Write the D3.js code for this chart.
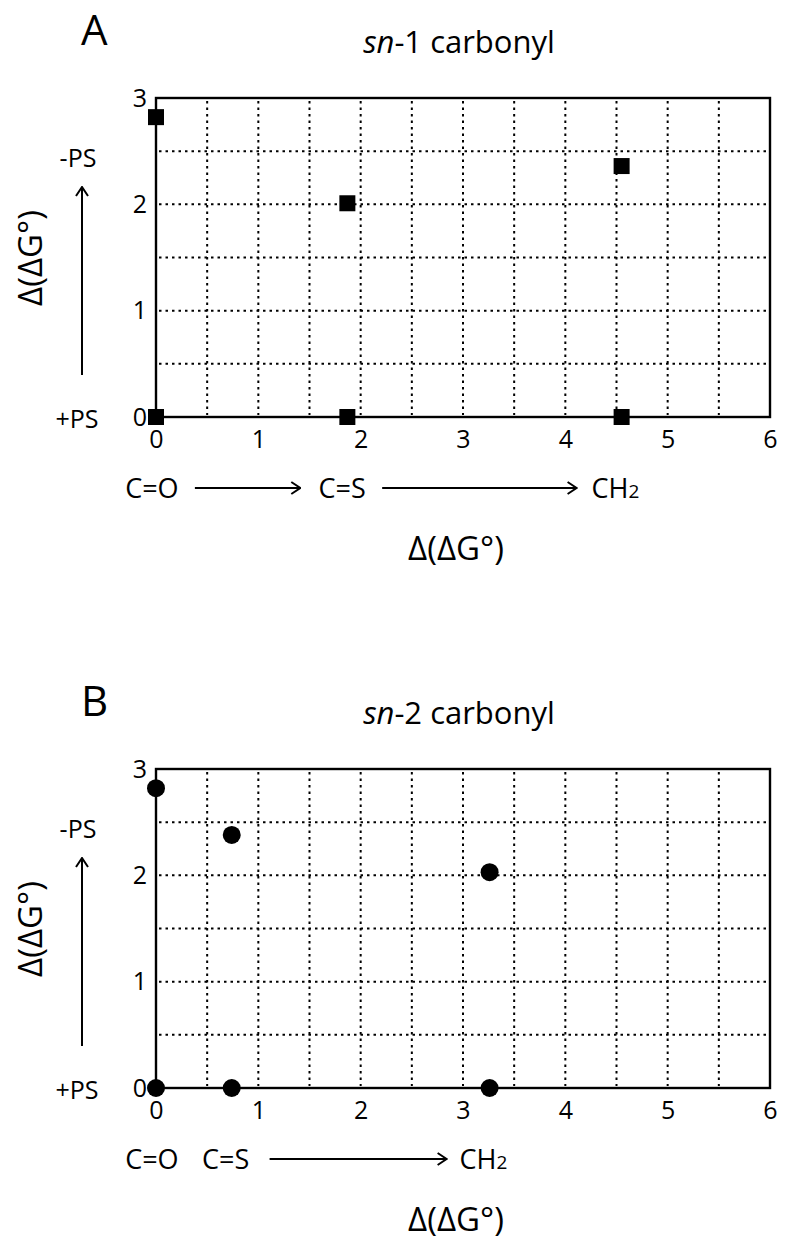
<!DOCTYPE html>
<html><head><meta charset="utf-8">
<script src="https://cdn.jsdelivr.net/npm/d3@7"></script>
<style>
body{margin:0;background:#fff;}
svg{display:block;font-family:"Open Sans",sans-serif;}
</style></head>
<body>
<svg id="chart" width="800" height="1245"></svg>
<script>
// ---- data ----
const xTicks = [0, 1, 2, 3, 4, 5, 6];
const yTicks = [0, 1, 2, 3];
const gridXValues = [0.5, 1, 1.5, 2, 2.5, 3, 3.5, 4, 4.5, 5, 5.5];
const gridYValues = [0.5, 1, 1.5, 2, 2.5];

const sn1X = [0, 1.87, 4.55, 0, 1.87, 4.55];
const sn1Y = [2.82, 2.01, 2.36, 0, 0, 0];
const sn2X = [0, 0.74, 3.26, 0, 0.74, 3.26];
const sn2Y = [2.82, 2.38, 2.03, 0, 0, 0];

const panelLetters = ["A", "B"];
const panelTitles = [["sn", "-1 carbonyl"], ["sn", "-2 carbonyl"]];
// substituent labels along x (positions in data units)
const sn1Labels = [{t: "C=O", x: -0.04}, {t: "C=S", x: 1.82}, {t: "CH", sub: "2", x: 4.49}];
const sn1Arrows = [[0.38, 1.41], [2.21, 4.11]];
const sn2Labels = [{t: "C=O", x: -0.04}, {t: "C=S", x: 0.68}, {t: "CH", sub: "2", x: 3.2}];
const sn2Arrows = [[1.11, 2.84]];

const svg = d3.select("#chart");
const defs = svg.append("defs");
defs.append("marker").attr("id", "arrowhead")
  .attr("viewBox", "0 0 14 14").attr("refX", 13).attr("refY", 7)
  .attr("markerWidth", 14).attr("markerHeight", 14).attr("markerUnits", "userSpaceOnUse")
  .attr("orient", "auto")
  .append("path").attr("d", "M4,1 L13,7 L4,13").attr("fill", "none")
  .attr("stroke", "#000").attr("stroke-width", 2);

function panel(top, letter, title, xs, ys, shape, labels, arrows) {
  const left = 156, right = 770, height = 319;
  const x = d3.scaleLinear().domain([0, 6]).range([left, right]);
  const y = d3.scaleLinear().domain([0, 3]).range([top + height, top]);
  const g = svg.append("g");

  // panel letter & title
  g.append("text").attr("x", 81).attr("y", top - 53).attr("font-size", 42).text(letter);
  const tt = g.append("text").attr("x", 459).attr("y", top - 45).attr("font-size", 31)
    .attr("text-anchor", "middle");
  tt.append("tspan").attr("font-style", "italic").text(title[0]);
  tt.append("tspan").text(title[1]);

  // grid
  g.selectAll(".gx").data(gridXValues).join("line")
    .attr("x1", d => x(d)).attr("x2", d => x(d))
    .attr("y1", y(3) + 3).attr("y2", y(0) - 2)
    .attr("stroke", "#000").attr("stroke-width", 2).attr("stroke-dasharray", "2.5,4");
  g.selectAll(".gy").data(gridYValues).join("line")
    .attr("x1", x(0) + 3).attr("x2", x(6) - 3)
    .attr("y1", d => y(d)).attr("y2", d => y(d))
    .attr("stroke", "#000").attr("stroke-width", 2).attr("stroke-dasharray", "2.5,4");

  // frame
  g.append("rect").attr("x", x(0)).attr("y", y(3))
    .attr("width", x(6) - x(0)).attr("height", y(0) - y(3))
    .attr("fill", "none").attr("stroke", "#000").attr("stroke-width", 2.4);

  // axes tick labels
  const xAxis = d3.axisBottom(x).tickValues(xTicks).tickSize(0).tickPadding(13).tickFormat(d3.format("d"));
  const ax = g.append("g").attr("transform", `translate(0,${y(0)})`).call(xAxis);
  ax.select(".domain").remove();
  ax.selectAll("text").attr("font-size", 25).attr("font-family", "'Open Sans',sans-serif").attr("fill", "#000");
  const yAxis = d3.axisLeft(y).tickValues(yTicks).tickSize(0).tickPadding(9).tickFormat(d3.format("d"));
  const ay = g.append("g").attr("transform", `translate(${x(0)},0)`).call(yAxis);
  ay.select(".domain").remove();
  ay.selectAll("text").attr("font-size", 25).attr("font-family", "'Open Sans',sans-serif").attr("fill", "#000");

  // +PS / -PS and vertical arrow
  g.append("text").attr("x", 77).attr("y", y(0) + 11).attr("font-size", 25)
    .attr("text-anchor", "middle").text("+PS");
  g.append("text").attr("x", 78).attr("y", top + 69).attr("font-size", 25)
    .attr("text-anchor", "middle").text("-PS");
  g.append("line").attr("x1", 82).attr("x2", 82).attr("y1", top + 277).attr("y2", top + 89)
    .attr("stroke", "#000").attr("stroke-width", 2).attr("marker-end", "url(#arrowhead)");

  // y-axis title
  g.append("text").attr("transform", `translate(42,${top + 160}) rotate(-90)`)
    .attr("font-size", 33).attr("text-anchor", "middle").text("Δ(ΔG°)");

  // x substituent labels
  const ly = y(0) + 81;
  labels.forEach(l => {
    const t = g.append("text").attr("x", x(l.x)).attr("y", ly).attr("font-size", 27)
      .attr("text-anchor", "middle").text(l.t);
    if (l.sub) t.append("tspan").attr("font-size", 19).text(l.sub);
  });
  arrows.forEach(a => {
    g.append("line").attr("x1", x(a[0])).attr("x2", x(a[1])).attr("y1", ly - 10).attr("y2", ly - 10)
      .attr("stroke", "#000").attr("stroke-width", 2).attr("marker-end", "url(#arrowhead)");
  });

  // x-axis title
  g.append("text").attr("x", 456).attr("y", y(0) + 143).attr("font-size", 33)
    .attr("text-anchor", "middle").text("Δ(ΔG°)");

  // points
  const pts = xs.map((v, i) => ({x: v, y: ys[i]}));
  if (shape === "square") {
    g.selectAll(".pt").data(pts).join("rect")
      .attr("x", d => x(d.x) - 8).attr("y", d => y(d.y) - 8)
      .attr("width", 16).attr("height", 16).attr("fill", "#000");
  } else {
    g.selectAll(".pt").data(pts).join("circle")
      .attr("cx", d => x(d.x)).attr("cy", d => y(d.y)).attr("r", 9).attr("fill", "#000");
  }
}

panel(98, panelLetters[0], panelTitles[0], sn1X, sn1Y, "square", sn1Labels, sn1Arrows);
panel(769, panelLetters[1], panelTitles[1], sn2X, sn2Y, "circle", sn2Labels, sn2Arrows);
</script>
</body></html>
